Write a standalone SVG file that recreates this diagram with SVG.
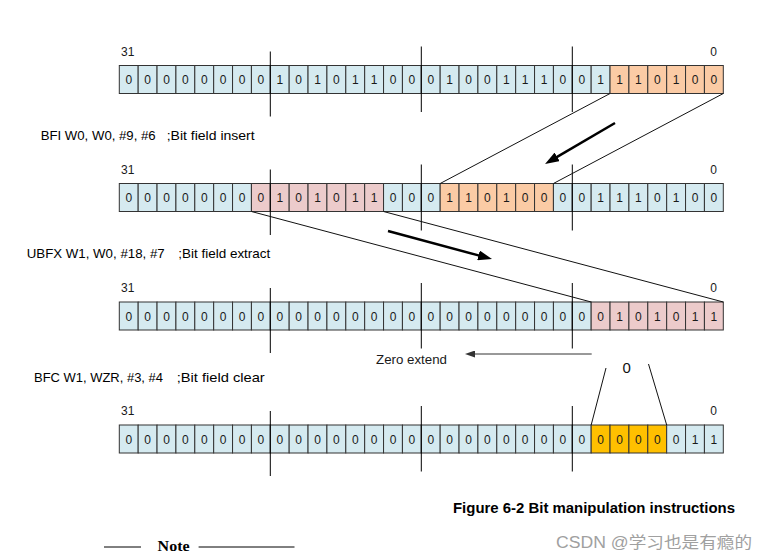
<svg xmlns="http://www.w3.org/2000/svg" width="768" height="560" viewBox="0 0 768 560">
<style>
.c{stroke:#333;stroke-width:1}
.b{fill:#d5eaf0}.o{fill:#fbcba5}.p{fill:#eccbcb}.g{fill:#ffc000}
.d{font-family:"Liberation Sans",Arial,sans-serif;font-size:12px;fill:#1a1a1a;text-anchor:middle}
.lbl{font-family:"Liberation Sans",Arial,sans-serif;font-size:12px;fill:#1a1a1a}
.ins{font-family:"Liberation Sans",Arial,sans-serif;font-size:13px;fill:#000}
.tk{stroke:#000;stroke-width:1}
.ln{stroke:#111;stroke-width:1;fill:none}
.ar{stroke:#000;stroke-width:2.5;fill:none}
</style>
<defs>
<marker id="big" markerUnits="userSpaceOnUse" markerWidth="14" markerHeight="10" refX="2" refY="5" orient="auto"><path d="M0,0 L14,5 L0,10 z" fill="#000"/></marker>
<marker id="sm" markerUnits="userSpaceOnUse" markerWidth="10" markerHeight="7" refX="1" refY="3.5" orient="auto"><path d="M0,0 L10,3.5 L0,7 z" fill="#333"/></marker>
</defs>

<g id="instr-bfi"><text class="ins" y="139.5"><tspan x="40.7" textLength="115" lengthAdjust="spacingAndGlyphs">BFI W0, W0, #9, #6</tspan><tspan x="166.7" textLength="88" lengthAdjust="spacingAndGlyphs">;Bit field insert</tspan></text></g>
<g id="instr-ubfx"><text class="ins" y="258.3"><tspan x="26.7" textLength="138" lengthAdjust="spacingAndGlyphs">UBFX W1, W0, #18, #7</tspan><tspan x="178.3" textLength="92" lengthAdjust="spacingAndGlyphs">;Bit field extract</tspan></text></g>
<g id="instr-bfc"><text class="ins" y="381.7"><tspan x="34" textLength="129" lengthAdjust="spacingAndGlyphs">BFC W1, WZR, #3, #4</tspan><tspan x="176.7" textLength="88" lengthAdjust="spacingAndGlyphs">;Bit field clear</tspan></text></g>

<!-- Row 1 -->
<g id="row1">
<text class="lbl" x="121" y="55.5">31</text><text class="d" x="713.5" y="55.5">0</text>
<g transform="translate(0,65.5)">
<rect class="c b" x="119.3" y="0" width="18.875" height="28"/><rect class="c b" x="138.175" y="0" width="18.875" height="28"/><rect class="c b" x="157.05" y="0" width="18.875" height="28"/><rect class="c b" x="175.925" y="0" width="18.875" height="28"/><rect class="c b" x="194.8" y="0" width="18.875" height="28"/><rect class="c b" x="213.675" y="0" width="18.875" height="28"/><rect class="c b" x="232.55" y="0" width="18.875" height="28"/><rect class="c b" x="251.425" y="0" width="18.875" height="28"/><rect class="c b" x="270.3" y="0" width="18.875" height="28"/><rect class="c b" x="289.175" y="0" width="18.875" height="28"/><rect class="c b" x="308.05" y="0" width="18.875" height="28"/><rect class="c b" x="326.925" y="0" width="18.875" height="28"/><rect class="c b" x="345.8" y="0" width="18.875" height="28"/><rect class="c b" x="364.675" y="0" width="18.875" height="28"/><rect class="c b" x="383.55" y="0" width="18.875" height="28"/><rect class="c b" x="402.425" y="0" width="18.875" height="28"/><rect class="c b" x="421.3" y="0" width="18.875" height="28"/><rect class="c b" x="440.175" y="0" width="18.875" height="28"/><rect class="c b" x="459.05" y="0" width="18.875" height="28"/><rect class="c b" x="477.925" y="0" width="18.875" height="28"/><rect class="c b" x="496.8" y="0" width="18.875" height="28"/><rect class="c b" x="515.675" y="0" width="18.875" height="28"/><rect class="c b" x="534.55" y="0" width="18.875" height="28"/><rect class="c b" x="553.425" y="0" width="18.875" height="28"/><rect class="c b" x="572.3" y="0" width="18.875" height="28"/><rect class="c b" x="591.175" y="0" width="18.875" height="28"/><rect class="c o" x="610.05" y="0" width="18.875" height="28"/><rect class="c o" x="628.925" y="0" width="18.875" height="28"/><rect class="c o" x="647.8" y="0" width="18.875" height="28"/><rect class="c o" x="666.675" y="0" width="18.875" height="28"/><rect class="c o" x="685.55" y="0" width="18.875" height="28"/><rect class="c o" x="704.425" y="0" width="18.875" height="28"/>
<text class="d" x="128.74" y="18.5">0</text><text class="d" x="147.61" y="18.5">0</text><text class="d" x="166.49" y="18.5">0</text><text class="d" x="185.36" y="18.5">0</text><text class="d" x="204.24" y="18.5">0</text><text class="d" x="223.11" y="18.5">0</text><text class="d" x="241.99" y="18.5">0</text><text class="d" x="260.86" y="18.5">0</text><text class="d" x="279.74" y="18.5">1</text><text class="d" x="298.61" y="18.5">0</text><text class="d" x="317.49" y="18.5">1</text><text class="d" x="336.36" y="18.5">0</text><text class="d" x="355.24" y="18.5">1</text><text class="d" x="374.11" y="18.5">1</text><text class="d" x="392.99" y="18.5">0</text><text class="d" x="411.86" y="18.5">0</text><text class="d" x="430.74" y="18.5">0</text><text class="d" x="449.61" y="18.5">1</text><text class="d" x="468.49" y="18.5">0</text><text class="d" x="487.36" y="18.5">0</text><text class="d" x="506.24" y="18.5">1</text><text class="d" x="525.11" y="18.5">1</text><text class="d" x="543.99" y="18.5">1</text><text class="d" x="562.86" y="18.5">0</text><text class="d" x="581.74" y="18.5">0</text><text class="d" x="600.61" y="18.5">1</text><text class="d" x="619.49" y="18.5">1</text><text class="d" x="638.36" y="18.5">1</text><text class="d" x="657.24" y="18.5">0</text><text class="d" x="676.11" y="18.5">1</text><text class="d" x="694.99" y="18.5">0</text><text class="d" x="713.86" y="18.5">0</text>
<line class="tk" x1="270.3" y1="-14" x2="270.3" y2="51"/><line class="tk" x1="421.3" y1="-19" x2="421.3" y2="46.5"/><line class="tk" x1="572.3" y1="-19" x2="572.3" y2="46.5"/>
</g>
</g>

<!-- Row 2 -->
<g id="row2">
<text class="lbl" x="121" y="173.5">31</text><text class="d" x="713.5" y="173.5">0</text>
<g transform="translate(0,183.5)">
<rect class="c b" x="119.3" y="0" width="18.875" height="28"/><rect class="c b" x="138.175" y="0" width="18.875" height="28"/><rect class="c b" x="157.05" y="0" width="18.875" height="28"/><rect class="c b" x="175.925" y="0" width="18.875" height="28"/><rect class="c b" x="194.8" y="0" width="18.875" height="28"/><rect class="c b" x="213.675" y="0" width="18.875" height="28"/><rect class="c b" x="232.55" y="0" width="18.875" height="28"/><rect class="c p" x="251.425" y="0" width="18.875" height="28"/><rect class="c p" x="270.3" y="0" width="18.875" height="28"/><rect class="c p" x="289.175" y="0" width="18.875" height="28"/><rect class="c p" x="308.05" y="0" width="18.875" height="28"/><rect class="c p" x="326.925" y="0" width="18.875" height="28"/><rect class="c p" x="345.8" y="0" width="18.875" height="28"/><rect class="c p" x="364.675" y="0" width="18.875" height="28"/><rect class="c b" x="383.55" y="0" width="18.875" height="28"/><rect class="c b" x="402.425" y="0" width="18.875" height="28"/><rect class="c b" x="421.3" y="0" width="18.875" height="28"/><rect class="c o" x="440.175" y="0" width="18.875" height="28"/><rect class="c o" x="459.05" y="0" width="18.875" height="28"/><rect class="c o" x="477.925" y="0" width="18.875" height="28"/><rect class="c o" x="496.8" y="0" width="18.875" height="28"/><rect class="c o" x="515.675" y="0" width="18.875" height="28"/><rect class="c o" x="534.55" y="0" width="18.875" height="28"/><rect class="c b" x="553.425" y="0" width="18.875" height="28"/><rect class="c b" x="572.3" y="0" width="18.875" height="28"/><rect class="c b" x="591.175" y="0" width="18.875" height="28"/><rect class="c b" x="610.05" y="0" width="18.875" height="28"/><rect class="c b" x="628.925" y="0" width="18.875" height="28"/><rect class="c b" x="647.8" y="0" width="18.875" height="28"/><rect class="c b" x="666.675" y="0" width="18.875" height="28"/><rect class="c b" x="685.55" y="0" width="18.875" height="28"/><rect class="c b" x="704.425" y="0" width="18.875" height="28"/>
<text class="d" x="128.74" y="18.5">0</text><text class="d" x="147.61" y="18.5">0</text><text class="d" x="166.49" y="18.5">0</text><text class="d" x="185.36" y="18.5">0</text><text class="d" x="204.24" y="18.5">0</text><text class="d" x="223.11" y="18.5">0</text><text class="d" x="241.99" y="18.5">0</text><text class="d" x="260.86" y="18.5">0</text><text class="d" x="279.74" y="18.5">1</text><text class="d" x="298.61" y="18.5">0</text><text class="d" x="317.49" y="18.5">1</text><text class="d" x="336.36" y="18.5">0</text><text class="d" x="355.24" y="18.5">1</text><text class="d" x="374.11" y="18.5">1</text><text class="d" x="392.99" y="18.5">0</text><text class="d" x="411.86" y="18.5">0</text><text class="d" x="430.74" y="18.5">0</text><text class="d" x="449.61" y="18.5">1</text><text class="d" x="468.49" y="18.5">1</text><text class="d" x="487.36" y="18.5">0</text><text class="d" x="506.24" y="18.5">1</text><text class="d" x="525.11" y="18.5">0</text><text class="d" x="543.99" y="18.5">0</text><text class="d" x="562.86" y="18.5">0</text><text class="d" x="581.74" y="18.5">0</text><text class="d" x="600.61" y="18.5">1</text><text class="d" x="619.49" y="18.5">1</text><text class="d" x="638.36" y="18.5">1</text><text class="d" x="657.24" y="18.5">0</text><text class="d" x="676.11" y="18.5">1</text><text class="d" x="694.99" y="18.5">0</text><text class="d" x="713.86" y="18.5">0</text>
<line class="tk" x1="270.3" y1="-14" x2="270.3" y2="51.5"/><line class="tk" x1="421.3" y1="-19" x2="421.3" y2="47"/><line class="tk" x1="572.3" y1="-19" x2="572.3" y2="47"/>
</g>
</g>

<!-- Row 3 -->
<g id="row3">
<text class="lbl" x="121" y="292">31</text><text class="d" x="713.5" y="292">0</text>
<g transform="translate(0,302)">
<rect class="c b" x="119.3" y="0" width="18.875" height="28"/><rect class="c b" x="138.175" y="0" width="18.875" height="28"/><rect class="c b" x="157.05" y="0" width="18.875" height="28"/><rect class="c b" x="175.925" y="0" width="18.875" height="28"/><rect class="c b" x="194.8" y="0" width="18.875" height="28"/><rect class="c b" x="213.675" y="0" width="18.875" height="28"/><rect class="c b" x="232.55" y="0" width="18.875" height="28"/><rect class="c b" x="251.425" y="0" width="18.875" height="28"/><rect class="c b" x="270.3" y="0" width="18.875" height="28"/><rect class="c b" x="289.175" y="0" width="18.875" height="28"/><rect class="c b" x="308.05" y="0" width="18.875" height="28"/><rect class="c b" x="326.925" y="0" width="18.875" height="28"/><rect class="c b" x="345.8" y="0" width="18.875" height="28"/><rect class="c b" x="364.675" y="0" width="18.875" height="28"/><rect class="c b" x="383.55" y="0" width="18.875" height="28"/><rect class="c b" x="402.425" y="0" width="18.875" height="28"/><rect class="c b" x="421.3" y="0" width="18.875" height="28"/><rect class="c b" x="440.175" y="0" width="18.875" height="28"/><rect class="c b" x="459.05" y="0" width="18.875" height="28"/><rect class="c b" x="477.925" y="0" width="18.875" height="28"/><rect class="c b" x="496.8" y="0" width="18.875" height="28"/><rect class="c b" x="515.675" y="0" width="18.875" height="28"/><rect class="c b" x="534.55" y="0" width="18.875" height="28"/><rect class="c b" x="553.425" y="0" width="18.875" height="28"/><rect class="c b" x="572.3" y="0" width="18.875" height="28"/><rect class="c p" x="591.175" y="0" width="18.875" height="28"/><rect class="c p" x="610.05" y="0" width="18.875" height="28"/><rect class="c p" x="628.925" y="0" width="18.875" height="28"/><rect class="c p" x="647.8" y="0" width="18.875" height="28"/><rect class="c p" x="666.675" y="0" width="18.875" height="28"/><rect class="c p" x="685.55" y="0" width="18.875" height="28"/><rect class="c p" x="704.425" y="0" width="18.875" height="28"/>
<text class="d" x="128.74" y="18.5">0</text><text class="d" x="147.61" y="18.5">0</text><text class="d" x="166.49" y="18.5">0</text><text class="d" x="185.36" y="18.5">0</text><text class="d" x="204.24" y="18.5">0</text><text class="d" x="223.11" y="18.5">0</text><text class="d" x="241.99" y="18.5">0</text><text class="d" x="260.86" y="18.5">0</text><text class="d" x="279.74" y="18.5">0</text><text class="d" x="298.61" y="18.5">0</text><text class="d" x="317.49" y="18.5">0</text><text class="d" x="336.36" y="18.5">0</text><text class="d" x="355.24" y="18.5">0</text><text class="d" x="374.11" y="18.5">0</text><text class="d" x="392.99" y="18.5">0</text><text class="d" x="411.86" y="18.5">0</text><text class="d" x="430.74" y="18.5">0</text><text class="d" x="449.61" y="18.5">0</text><text class="d" x="468.49" y="18.5">0</text><text class="d" x="487.36" y="18.5">0</text><text class="d" x="506.24" y="18.5">0</text><text class="d" x="525.11" y="18.5">0</text><text class="d" x="543.99" y="18.5">0</text><text class="d" x="562.86" y="18.5">0</text><text class="d" x="581.74" y="18.5">0</text><text class="d" x="600.61" y="18.5">0</text><text class="d" x="619.49" y="18.5">1</text><text class="d" x="638.36" y="18.5">0</text><text class="d" x="657.24" y="18.5">1</text><text class="d" x="676.11" y="18.5">0</text><text class="d" x="694.99" y="18.5">1</text><text class="d" x="713.86" y="18.5">1</text>
<line class="tk" x1="270.3" y1="-14" x2="270.3" y2="51"/><line class="tk" x1="421.3" y1="-19" x2="421.3" y2="46.5"/><line class="tk" x1="572.3" y1="-19" x2="572.3" y2="46.5"/>
</g>
</g>

<!-- Row 4 -->
<g id="row4">
<text class="lbl" x="121" y="415">31</text><text class="d" x="713.5" y="414.5">0</text>
<g transform="translate(0,425)">
<rect class="c b" x="119.3" y="0" width="18.875" height="28"/><rect class="c b" x="138.175" y="0" width="18.875" height="28"/><rect class="c b" x="157.05" y="0" width="18.875" height="28"/><rect class="c b" x="175.925" y="0" width="18.875" height="28"/><rect class="c b" x="194.8" y="0" width="18.875" height="28"/><rect class="c b" x="213.675" y="0" width="18.875" height="28"/><rect class="c b" x="232.55" y="0" width="18.875" height="28"/><rect class="c b" x="251.425" y="0" width="18.875" height="28"/><rect class="c b" x="270.3" y="0" width="18.875" height="28"/><rect class="c b" x="289.175" y="0" width="18.875" height="28"/><rect class="c b" x="308.05" y="0" width="18.875" height="28"/><rect class="c b" x="326.925" y="0" width="18.875" height="28"/><rect class="c b" x="345.8" y="0" width="18.875" height="28"/><rect class="c b" x="364.675" y="0" width="18.875" height="28"/><rect class="c b" x="383.55" y="0" width="18.875" height="28"/><rect class="c b" x="402.425" y="0" width="18.875" height="28"/><rect class="c b" x="421.3" y="0" width="18.875" height="28"/><rect class="c b" x="440.175" y="0" width="18.875" height="28"/><rect class="c b" x="459.05" y="0" width="18.875" height="28"/><rect class="c b" x="477.925" y="0" width="18.875" height="28"/><rect class="c b" x="496.8" y="0" width="18.875" height="28"/><rect class="c b" x="515.675" y="0" width="18.875" height="28"/><rect class="c b" x="534.55" y="0" width="18.875" height="28"/><rect class="c b" x="553.425" y="0" width="18.875" height="28"/><rect class="c b" x="572.3" y="0" width="18.875" height="28"/><rect class="c g" x="591.175" y="0" width="18.875" height="28"/><rect class="c g" x="610.05" y="0" width="18.875" height="28"/><rect class="c g" x="628.925" y="0" width="18.875" height="28"/><rect class="c g" x="647.8" y="0" width="18.875" height="28"/><rect class="c b" x="666.675" y="0" width="18.875" height="28"/><rect class="c b" x="685.55" y="0" width="18.875" height="28"/><rect class="c b" x="704.425" y="0" width="18.875" height="28"/>
<text class="d" x="128.74" y="18.5">0</text><text class="d" x="147.61" y="18.5">0</text><text class="d" x="166.49" y="18.5">0</text><text class="d" x="185.36" y="18.5">0</text><text class="d" x="204.24" y="18.5">0</text><text class="d" x="223.11" y="18.5">0</text><text class="d" x="241.99" y="18.5">0</text><text class="d" x="260.86" y="18.5">0</text><text class="d" x="279.74" y="18.5">0</text><text class="d" x="298.61" y="18.5">0</text><text class="d" x="317.49" y="18.5">0</text><text class="d" x="336.36" y="18.5">0</text><text class="d" x="355.24" y="18.5">0</text><text class="d" x="374.11" y="18.5">0</text><text class="d" x="392.99" y="18.5">0</text><text class="d" x="411.86" y="18.5">0</text><text class="d" x="430.74" y="18.5">0</text><text class="d" x="449.61" y="18.5">0</text><text class="d" x="468.49" y="18.5">0</text><text class="d" x="487.36" y="18.5">0</text><text class="d" x="506.24" y="18.5">0</text><text class="d" x="525.11" y="18.5">0</text><text class="d" x="543.99" y="18.5">0</text><text class="d" x="562.86" y="18.5">0</text><text class="d" x="581.74" y="18.5">0</text><text class="d" x="600.61" y="18.5">0</text><text class="d" x="619.49" y="18.5">0</text><text class="d" x="638.36" y="18.5">0</text><text class="d" x="657.24" y="18.5">0</text><text class="d" x="676.11" y="18.5">0</text><text class="d" x="694.99" y="18.5">1</text><text class="d" x="713.86" y="18.5">1</text>
<line class="tk" x1="270.3" y1="-14" x2="270.3" y2="51"/><line class="tk" x1="421.3" y1="-19" x2="421.3" y2="46.5"/><line class="tk" x1="572.3" y1="-19" x2="572.3" y2="46.5"/>
</g>
</g>

<g id="zero-extend-label"><text class="lbl" x="376" y="363.5" textLength="71" lengthAdjust="spacingAndGlyphs">Zero extend</text></g>
<g id="zero-const"><text x="626.7" y="373" style="font-family:'Liberation Sans',Arial,sans-serif;font-size:15px;fill:#111;text-anchor:middle">0</text></g>

<g id="connectors">
<line class="ln" x1="610.05" y1="93.5" x2="440.175" y2="183.5"/>
<line class="ln" x1="723.3" y1="93.5" x2="553.425" y2="183.5"/>
<line class="ln" x1="251.425" y1="211.5" x2="591.175" y2="302"/>
<line class="ln" x1="383.55" y1="211.5" x2="723.3" y2="302"/>
<line class="ln" x1="606" y1="368" x2="591.175" y2="425"/>
<line class="ln" x1="648.5" y1="364" x2="666.675" y2="425"/>
<line class="ar" x1="615" y1="123" x2="555.4" y2="157.9" marker-end="url(#big)"/>
<line class="ar" x1="388" y1="231" x2="480.4" y2="255.9" marker-end="url(#big)"/>
<line x1="591.7" y1="354" x2="474" y2="354" stroke="#333" stroke-width="1" marker-end="url(#sm)"/>
</g>

<g id="caption"><text x="453" y="513" textLength="282" lengthAdjust="spacingAndGlyphs" style="font-family:'Liberation Sans',Arial,sans-serif;font-size:14px;font-weight:bold;fill:#000">Figure 6-2 Bit manipulation instructions</text></g>
<g id="note">
<line x1="104" y1="547" x2="141" y2="547" stroke="#000" stroke-width="1"/>
<text x="157.6" y="551" textLength="32" lengthAdjust="spacingAndGlyphs" style="font-family:'Liberation Serif','Times New Roman',serif;font-size:14px;font-weight:bold;fill:#000">Note</text>
<line x1="198.6" y1="547" x2="294.5" y2="547" stroke="#000" stroke-width="1"/>
</g>
<g id="watermark"><text x="556" y="548" textLength="196" lengthAdjust="spacingAndGlyphs" style="font-family:'Liberation Sans','Noto Sans CJK SC',sans-serif;font-size:16px;fill:#a0a0a0">CSDN @学习也是有瘾的</text></g>
</svg>
